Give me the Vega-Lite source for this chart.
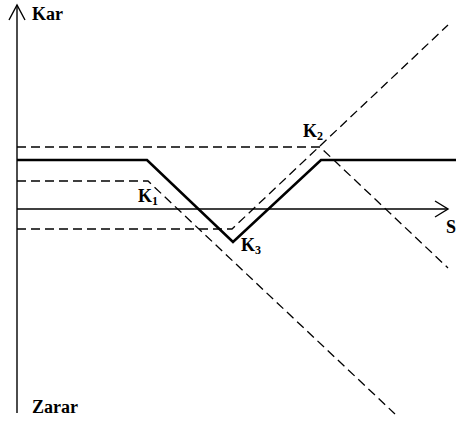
{
  "$schema": "https://vega.github.io/schema/vega-lite/v6.json",
  "width": 456,
  "height": 422,
  "autosize": {"type": "none"},
  "padding": 0,
  "background": "white",
  "config": {"view": {"stroke": null}},
  "datasets": {
    "lines": [
      {"kind": "axis", "series": "axisY", "o": 1, "s": 17, "p": 204},
      {"kind": "axis", "series": "axisY", "o": 2, "s": 17, "p": -204},
      {"kind": "axis", "series": "arrowY", "o": 1, "s": 9, "p": 189},
      {"kind": "axis", "series": "arrowY", "o": 2, "s": 17, "p": 204},
      {"kind": "axis", "series": "arrowY", "o": 3, "s": 25, "p": 189},
      {"kind": "axis", "series": "axisX", "o": 1, "s": 17, "p": 0},
      {"kind": "axis", "series": "axisX", "o": 2, "s": 448, "p": 0},
      {"kind": "axis", "series": "arrowX", "o": 1, "s": 435, "p": 8},
      {"kind": "axis", "series": "arrowX", "o": 2, "s": 448, "p": 0},
      {"kind": "axis", "series": "arrowX", "o": 3, "s": 435, "p": -8},
      {"kind": "payoff", "series": "payoff", "o": 1, "s": 17, "p": 49},
      {"kind": "payoff", "series": "payoff", "o": 2, "s": 147, "p": 49},
      {"kind": "payoff", "series": "payoff", "o": 3, "s": 233, "p": -33},
      {"kind": "payoff", "series": "payoff", "o": 4, "s": 321, "p": 49},
      {"kind": "payoff", "series": "payoff", "o": 5, "s": 456, "p": 49},
      {"kind": "leg", "series": "d1", "o": 1, "s": 17, "p": 62},
      {"kind": "leg", "series": "d1", "o": 2, "s": 320, "p": 62},
      {"kind": "leg", "series": "d1", "o": 3, "s": 448, "p": -59},
      {"kind": "leg", "series": "d2", "o": 1, "s": 17, "p": 28},
      {"kind": "leg", "series": "d2", "o": 2, "s": 148, "p": 28},
      {"kind": "leg", "series": "d2", "o": 3, "s": 395, "p": -205},
      {"kind": "leg", "series": "d3", "o": 1, "s": 17, "p": -20},
      {"kind": "leg", "series": "d3", "o": 2, "s": 232, "p": -20},
      {"kind": "leg", "series": "d3", "o": 3, "s": 448, "p": 184}
    ],
    "labels": [
      {"t": "Kar", "s": 32, "p": 189},
      {"t": "Zarar", "s": 32, "p": -204},
      {"t": "S", "s": 446, "p": -24},
      {"t": "K", "s": 138, "p": 7},
      {"t": "K", "s": 303, "p": 72},
      {"t": "K", "s": 241, "p": -42}
    ],
    "subs": [
      {"t": "1", "s": 152, "p": 4},
      {"t": "2", "s": 317, "p": 69},
      {"t": "3", "s": 255, "p": -45}
    ]
  },
  "encoding": {
    "x": {"field": "s", "type": "quantitative", "scale": {"domain": [0, 456], "nice": false, "zero": false}, "axis": null},
    "y": {"field": "p", "type": "quantitative", "scale": {"domain": [-213, 209], "nice": false, "zero": false}, "axis": null}
  },
  "layer": [
    {
      "data": {"name": "lines"},
      "transform": [{"filter": "datum.kind === 'leg'"}],
      "mark": {"type": "line", "color": "black", "strokeWidth": 1.3, "strokeDash": [9, 5], "strokeCap": "butt", "clip": false},
      "encoding": {
        "detail": {"field": "series"},
        "order": {"field": "o", "type": "quantitative"}
      }
    },
    {
      "data": {"name": "lines"},
      "transform": [{"filter": "datum.kind === 'axis'"}],
      "mark": {"type": "line", "color": "black", "strokeWidth": 1.4, "strokeCap": "butt", "strokeJoin": "miter", "clip": false},
      "encoding": {
        "detail": {"field": "series"},
        "order": {"field": "o", "type": "quantitative"}
      }
    },
    {
      "data": {"name": "lines"},
      "transform": [{"filter": "datum.kind === 'payoff'"}],
      "mark": {"type": "line", "color": "black", "strokeWidth": 2.6, "strokeCap": "butt", "strokeJoin": "miter", "clip": false},
      "encoding": {
        "detail": {"field": "series"},
        "order": {"field": "o", "type": "quantitative"}
      }
    },
    {
      "data": {"name": "labels"},
      "mark": {"type": "text", "font": "Liberation Serif", "fontWeight": "bold", "fontSize": 18, "align": "left", "baseline": "alphabetic", "color": "black"},
      "encoding": {"text": {"field": "t"}}
    },
    {
      "data": {"name": "subs"},
      "mark": {"type": "text", "font": "Liberation Serif", "fontWeight": "bold", "fontSize": 12, "align": "left", "baseline": "alphabetic", "color": "black"},
      "encoding": {"text": {"field": "t"}}
    }
  ]
}
